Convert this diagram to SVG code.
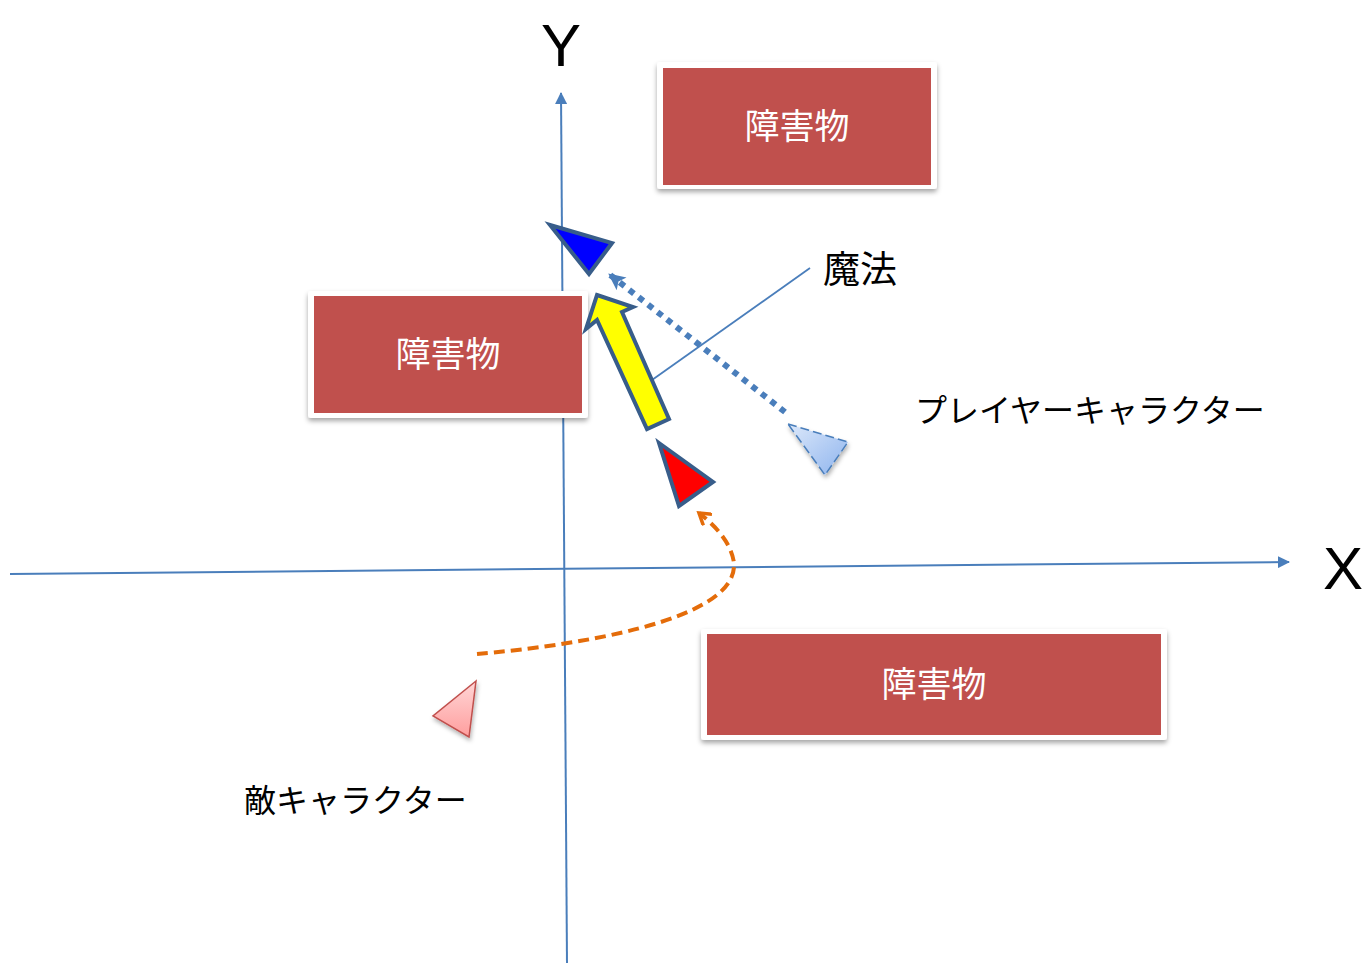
<svg xmlns="http://www.w3.org/2000/svg" width="1370" height="976" viewBox="0 0 1370 976">
<style>
.axis{stroke:#4A7EBB;stroke-width:2;fill:none}
.frame{fill:#FFFFFF;filter:url(#sh)}
.obs{fill:#C0504D}
.obtxt{font-family:"Noto Sans CJK JP","Liberation Sans",sans-serif;font-size:35px;fill:#FFFFFF;text-anchor:middle}
.lbl{font-family:"Noto Sans CJK JP","Liberation Sans",sans-serif;font-size:32px;fill:#000000}
.lbl.magic{font-size:37px}
.big{font-family:"Liberation Sans",Arial,sans-serif;font-size:60px;fill:#000000;text-anchor:middle}
.dark{stroke:#385D8A;stroke-width:4;stroke-linejoin:miter}
</style>
<defs>
<filter id="sh" x="-10%" y="-10%" width="120%" height="130%">
<feDropShadow dx="0" dy="3" stdDeviation="2.5" flood-color="#000000" flood-opacity="0.35"/>
</filter>
<filter id="sh2" x="-30%" y="-30%" width="160%" height="160%">
<feDropShadow dx="1" dy="3" stdDeviation="2" flood-color="#000000" flood-opacity="0.3"/>
</filter>
<marker id="axArr" markerWidth="12" markerHeight="12" refX="11" refY="6" orient="auto" markerUnits="userSpaceOnUse">
<path d="M0,0 L12,6 L0,12 Z" fill="#4A7EBB"/>
</marker>
<marker id="dotArr" markerWidth="18" markerHeight="18" refX="16" refY="9" orient="auto" markerUnits="userSpaceOnUse">
<path d="M0,1 L17,9 L0,17 L4,9 Z" fill="#4A7EBB"/>
</marker>
<marker id="orArr" markerWidth="16" markerHeight="16" refX="13" refY="8" orient="auto" markerUnits="userSpaceOnUse">
<path d="M2,1 L13,8 L2,15" fill="none" stroke="#E46C0A" stroke-width="3.5" stroke-linejoin="miter"/>
</marker>
<linearGradient id="lb" x1="0" y1="0" x2="1" y2="1">
<stop offset="0" stop-color="#DCE8FA"/>
<stop offset="1" stop-color="#8EB4EE"/>
</linearGradient>
<linearGradient id="pk" x1="0" y1="0" x2="0" y2="1">
<stop offset="0" stop-color="#FFD6D6"/>
<stop offset="1" stop-color="#FF9E9E"/>
</linearGradient>
</defs>

<g id="connectors">
<line class="axis" x1="567" y1="963" x2="561" y2="93" marker-end="url(#axArr)"/>
<line class="axis" x1="10" y1="574" x2="1289" y2="562" marker-end="url(#axArr)"/>
<line x1="785" y1="412" x2="609" y2="274" stroke="#4A7EBB" stroke-width="6" stroke-dasharray="6 6" marker-end="url(#dotArr)"/>
<line x1="810" y1="268" x2="652" y2="380" stroke="#4A7EBB" stroke-width="1.8"/>
<path d="M477,654 C570,646 738,622 734,563 C731,541 713,524 699,513" fill="none" stroke="#E46C0A" stroke-width="4" stroke-dasharray="11 6" marker-end="url(#orArr)"/>
</g>

<g id="axis-labels">
<text class="big" x="561" y="66">Y</text>
<text class="big" x="1343" y="589">X</text>
</g>

<g id="obstacle-top">
<rect class="frame" x="657" y="62" width="280" height="127" rx="3"/>
<rect class="obs" x="663" y="68" width="268" height="117"/>
<text class="obtxt" x="797" y="139">障害物</text>
</g>

<g id="obstacle-left">
<rect class="frame" x="308" y="291" width="280" height="127" rx="3"/>
<rect class="obs" x="314" y="296" width="268" height="117"/>
<text class="obtxt" x="448" y="367">障害物</text>
</g>

<g id="obstacle-bottom">
<rect class="frame" x="701" y="629" width="466" height="111" rx="3"/>
<rect class="obs" x="707" y="634" width="454" height="101"/>
<text class="obtxt" x="934" y="697">障害物</text>
</g>

<g id="magic-arrow">
<polygon class="dark" fill="#FFFF00" points="597,295 633,307 622,312 669,419 647,429 597,320 586,329"/>
</g>

<g id="blue-triangle">
<polygon class="dark" fill="#0000FF" points="550,225 612,243 589,274"/>
</g>

<g id="red-triangle">
<polygon class="dark" fill="#FF0000" points="659,443 713,482 679,506"/>
</g>

<g id="player-ghost">
<polygon fill="url(#lb)" stroke="#4A7EBB" stroke-width="1.5" stroke-dasharray="9 4" points="788,424 848,442 825,475" filter="url(#sh2)"/>
</g>

<g id="enemy">
<polygon fill="url(#pk)" stroke="#C0504D" stroke-width="1.5" points="476,681 433,716 469,737" filter="url(#sh2)"/>
</g>

<g id="label-magic">
<text class="lbl magic" x="823" y="283">魔法</text>
</g>
<g id="label-player">
<text class="lbl" x="915" y="422">プレイヤーキャラクター</text>
</g>
<g id="label-enemy">
<text class="lbl" x="244" y="812">敵キャラクター</text>
</g>
</svg>
